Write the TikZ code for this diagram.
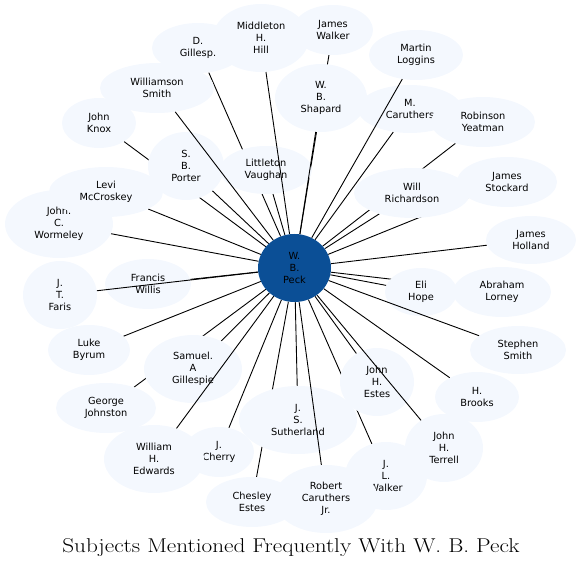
\documentclass[tikz,border=0pt]{standalone}
\usepackage{fontspec}
\newfontfamily\labelfont{DejaVu Sans}
\usetikzlibrary{shapes.geometric,backgrounds}
\definecolor{peckblue}{HTML}{0B4F96}
\definecolor{palewash}{HTML}{F4F8FE}
\tikzset{
person/.style={ellipse,fill=palewash,inner sep=0pt,align=center,font=\labelfont\fontsize{9.8}{12}\selectfont,minimum height=50pt},
tall/.style={person,minimum height=68pt},
hub/.style={tall,fill=peckblue,minimum width=73pt},
link/.style={line width=.9pt,draw=black},
heading/.style={font=\fontsize{20}{24}\selectfont,xscale=1.16}}
\begin{document}
\begin{tikzpicture}[x=1pt,y=-1pt]
\useasboundingbox (0,0) rectangle (582,569);
\node[hub] (peck) at (294.5,268) {W.\\B.\\Peck};
\node[person,minimum width=92pt] (gillesp) at (198,48) {D.\\Gillesp.};
\node[tall,minimum width=96pt] (hill) at (261,38) {Middleton\\H.\\Hill};
\node[person,minimum width=80pt] (jwalker) at (333,30) {James\\Walker};
\node[person,minimum width=94pt] (loggins) at (416,55) {Martin\\Loggins};
\node[tall,minimum width=92pt] (shapard) at (321,98) {W.\\B.\\Shapard};
\node[person,minimum width=104pt,minimum height=48pt] (mcaruthers) at (410,109) {M.\\Caruthers};
\node[person,minimum width=104pt] (yeatman) at (483,122) {Robinson\\Yeatman};
\node[person,minimum width=114pt] (wsmith) at (157,88) {Williamson\\Smith};
\node[person,minimum width=74pt] (knox) at (99,123) {John\\Knox};
\node[tall,minimum width=76pt] (porter) at (186,166) {S.\\B.\\Porter};
\node[person,minimum width=92pt,minimum height=48pt] (vaughan) at (266,170) {Littleton\\Vaughan};
\node[tall,minimum width=108pt] (wormeley) at (59,224) {John.\\C.\\Wormeley};
\node[person,minimum width=114pt] (mccroskey) at (106,192) {Levi\\McCroskey};
\node[person,minimum width=116pt] (richardson) at (412,193) {Will\\Richardson};
\node[person,minimum width=100pt] (stockard) at (507,182) {James\\Stockard};
\node[person,minimum width=90pt,minimum height=48pt] (holland) at (531,240) {James\\Holland};
\node[person,minimum width=98pt] (lorney) at (502,292) {Abraham\\Lorney};
\node[person,minimum width=72pt,minimum height=48pt] (hope) at (421,292) {Eli\\Hope};
\node[person,minimum width=96pt,minimum height=48pt] (ssmith) at (518,350) {Stephen\\Smith};
\node[person,minimum width=84pt] (brooks) at (477,397) {H.\\Brooks};
\node[tall,minimum width=74pt] (hestes) at (377,382) {John\\H.\\Estes};
\node[tall,minimum width=78pt] (terrell) at (444,448) {John\\H.\\Terrell};
\node[tall,minimum width=82pt] (lwalker) at (386,476) {J.\\L.\\Walker};
\node[tall,minimum width=118pt] (sutherland) at (298,420) {J.\\S.\\Sutherland};
\node[person,minimum width=92pt] (cestes) at (252,502) {Chesley\\Estes};
\node[tall,minimum width=104pt] (rcaruthers) at (326,499) {Robert\\Caruthers\\Jr.};
\node[person,minimum width=70pt] (cherry) at (219,452) {J.\\Cherry};
\node[tall,minimum width=100pt] (edwards) at (154,459) {William\\H.\\Edwards};
\node[person,minimum width=100pt] (johnston) at (106,408) {George\\Johnston};
\node[tall,minimum width=98pt] (sgillespie) at (193,369) {Samuel.\\A\\Gillespie};
\node[person,minimum width=82pt] (byrum) at (89,350) {Luke\\Byrum};
\node[tall,minimum width=74pt] (faris) at (60,295) {J.\\T.\\Faris};
\node[person,minimum width=86pt] (willis) at (148,284) {Francis\\Willis};
\begin{scope}[on background layer]
\draw[link] (peck) -- (gillesp);
\draw[link] (peck) -- (jwalker);
\draw[link] (peck) -- (mcaruthers);
\draw[link] (peck) -- (yeatman);
\draw[link] (peck) -- (knox);
\draw[link] (peck) -- (porter);
\draw[link] (peck) -- (vaughan);
\draw[link] (peck) -- (wormeley);
\draw[link] (peck) -- (mccroskey);
\draw[link] (peck) -- (richardson);
\draw[link] (peck) -- (stockard);
\draw[link] (peck) -- (holland);
\draw[link] (peck) -- (lorney);
\draw[link] (peck) -- (hope);
\draw[link] (peck) -- (brooks);
\draw[link] (peck) -- (hestes);
\draw[link] (peck) -- (lwalker);
\draw[link] (peck) -- (sutherland);
\draw[link] (peck) -- (cestes);
\draw[link] (peck) -- (cherry);
\draw[link] (peck) -- (johnston);
\draw[link] (peck) -- (sgillespie);
\draw[link] (peck) -- (byrum);
\draw[link] (peck) -- (willis);
\end{scope}
\draw[link] (peck) -- (hill);
\draw[link] (peck) -- (shapard);
\draw[link] (peck) -- (loggins);
\draw[link] (peck) -- (wsmith);
\draw[link] (peck) -- (ssmith);
\draw[link] (peck) -- (terrell);
\draw[link] (peck) -- (rcaruthers);
\draw[link] (peck) -- (edwards);
\draw[link] (peck) -- (faris);
\node[heading] (title) at (291,548) {Subjects Mentioned Frequently With W. B. Peck};
\end{tikzpicture}
\end{document}
